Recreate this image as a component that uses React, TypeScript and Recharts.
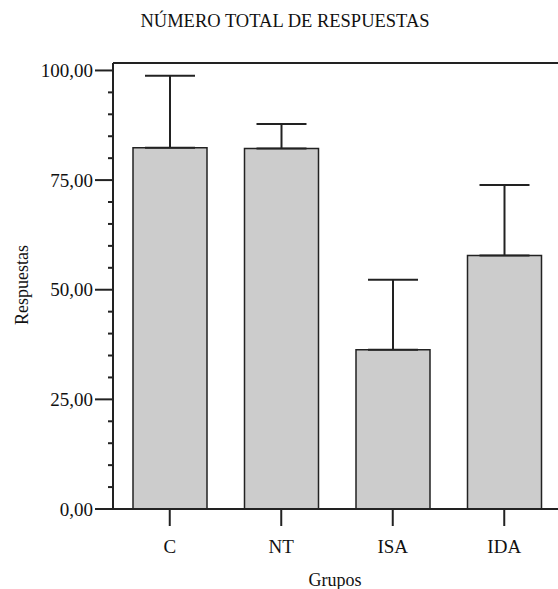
import React from "react"
import { Bar, BarChart, ErrorBar, ReferenceLine, XAxis, YAxis } from "recharts"

// Values
const groups = ["C", "NT", "ISA", "IDA"]
const means = [82.4, 82.2, 36.3, 57.8]
const upperErrors = [16.4, 5.6, 16.0, 16.1]
const yTicks = [0, 5, 10, 15, 20, 25, 30, 35, 40, 45, 50, 55, 60, 65, 70, 75, 80, 85, 90, 95, 100]
const majorTicks = [0, 25, 50, 75, 100]

const data = groups.map((g, i) => ({
  group: g,
  value: means[i],
  err: [0, upperErrors[i]],
}))

const FONT = "'Liberation Serif', 'Times New Roman', serif"
const INK = "#222"

function fmt(v: number) {
  return v.toFixed(2).replace(".", ",")
}

function YTick(props: any) {
  const { x, y, payload } = props
  const major = majorTicks.includes(payload.value)
  return (
    <g>
      <line
        x1={x - (major ? 18 : 5)}
        x2={x}
        y1={y}
        y2={y}
        stroke={INK}
        strokeWidth={2}
      />
      {major && (
        <text
          x={x - 20}
          y={y}
          dy="0.35em"
          textAnchor="end"
          fill="#111"
          fontFamily={FONT}
          fontSize={19}
        >
          {fmt(payload.value)}
        </text>
      )}
    </g>
  )
}

function XTick(props: any) {
  const { x, y, payload } = props
  return (
    <text
      x={x}
      y={y}
      dy="0.71em"
      textAnchor="middle"
      fill="#111"
      fontFamily={FONT}
      fontSize={19}
    >
      {payload.value}
    </text>
  )
}

export default function App() {
  return (
    <div
      style={{
        position: "absolute",
        left: 0,
        top: 0,
        width: 558,
        height: 589,
        background: "#fff",
        fontFamily: FONT,
        overflow: "hidden",
      }}
    >
      <div
        style={{
          position: "absolute",
          left: 0,
          width: 570,
          top: 11,
          textAlign: "center",
          fontSize: 18.5,
          color: "#111",
          lineHeight: "20px",
        }}
      >
        NÚMERO TOTAL DE RESPUESTAS
      </div>
      <div
        style={{
          position: "absolute",
          left: 22,
          top: 285,
          transform: "translate(-50%, -50%) rotate(-90deg)",
          fontSize: 18,
          color: "#111",
          whiteSpace: "nowrap",
        }}
      >
        Respuestas
      </div>
      <div
        style={{
          position: "absolute",
          left: 335,
          top: 570,
          transform: "translateX(-50%)",
          fontSize: 18,
          color: "#111",
          whiteSpace: "nowrap",
          lineHeight: "20px",
        }}
      >
        Grupos
      </div>

      <BarChart
        width={558}
        height={589}
        data={data}
        margin={{ top: 63, right: -2, left: 93, bottom: 0 }}
        barSize={74}
        style={{ position: "absolute", left: 0, top: 0, fontFamily: FONT }}
      >
        <XAxis
          dataKey="group"
          height={80}
          padding={{ left: 1, right: 0 }}
          axisLine={{ stroke: INK, strokeWidth: 2 }}
          tickLine={{ stroke: INK, strokeWidth: 2 }}
          tickSize={17}
          tickMargin={14}
          tick={<XTick />}
        />
        <YAxis
          width={20}
          domain={[0, 101.7]}
          allowDataOverflow
          ticks={yTicks}
          interval={0}
          tickSize={0}
          tickMargin={0}
          tickLine={false}
          axisLine={{ stroke: INK, strokeWidth: 2 }}
          tick={<YTick />}
        />
        <ReferenceLine y={101.7} stroke={INK} strokeWidth={2} />
        <Bar
          dataKey="value"
          fill="#cccccc"
          stroke={INK}
          strokeWidth={1.5}
          isAnimationActive={false}
        >
          <ErrorBar
            dataKey="err"
            direction="y"
            width={25}
            stroke={INK}
            strokeWidth={2}
            isAnimationActive={false}
          />
        </Bar>
      </BarChart>
    </div>
  )
}
